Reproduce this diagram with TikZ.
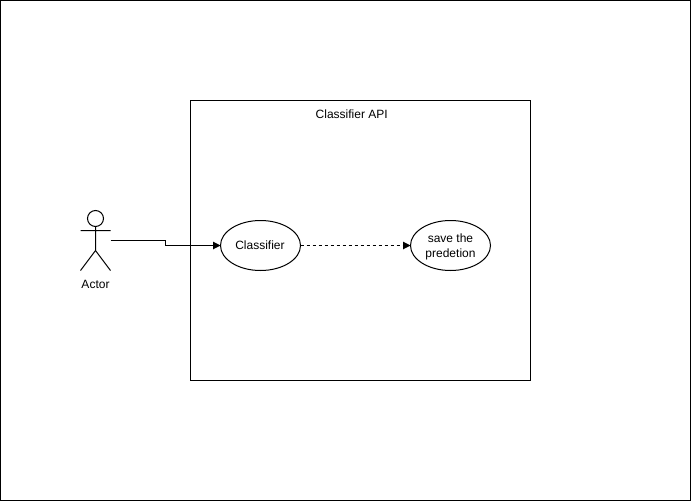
\documentclass[tikz,border=0pt]{standalone}
\usepackage{fontspec}
\setmainfont{Liberation Sans}
\usetikzlibrary{arrows.meta,shapes.geometric}
\tikzset{
  frame/.style={draw=black,line width=1pt,fill=white,minimum width=#1,inner sep=0pt,outer sep=0pt},
  usecase/.style={draw=black,line width=1pt,fill=white,ellipse,minimum width=80pt,minimum height=50pt,inner sep=0pt,outer sep=0pt,align=center,font=\fontsize{12}{15}\selectfont},
  lbl/.style={inner sep=0pt,outer sep=0pt,font=\fontsize{12}{14}\selectfont,text=black},
  figure/.style={line width=1pt,draw=black},
  conn/.style={line width=1pt,draw=black,-{Triangle[length=7.5pt,width=7.5pt,sep=0pt]},shorten >=0pt},
}
\begin{document}
\begin{tikzpicture}[x=1pt,y=-1pt]
\useasboundingbox (0,0) rectangle (691,501);
\fill[white] (0,0) rectangle (691,501);
\node[frame=690pt,minimum height=500pt] (page) at (345.5,250.5) {};
\node[frame=340pt,minimum height=280pt] (system) at (360.5,240.5) {};
\node[lbl] (title) at (351.7,114) {Classifier API};
\node[usecase] (classifier) at (260.5,245.5) {\kern-1pt Classifier};
\node[usecase] (save) at (450.5,245.5) {\rule{0pt}{11.5pt}save the\\predetion};
% stick figure
\node[draw=none,minimum width=30pt,minimum height=60pt,inner sep=0pt,outer sep=0pt] (actor) at (95.5,240.5) {};
\draw[figure] (95.5,218.5) circle[radius=8pt];
\draw[figure] (95.5,226.5) -- (95.5,250.5) (80.5,230.5) -- (110.5,230.5)
  (80.5,270.5) -- (95.5,250.5) -- (110.5,270.5);
\node[lbl] (actorlabel) at (95.5,284) {Actor};
% connectors
\draw[conn] (actor.east) -- (165.5,240.5) -- (165.5,245.5) -- (classifier.west);
\draw[conn,dash pattern=on 3pt off 3pt] (classifier.east) -- (save.west);
\end{tikzpicture}
\end{document}
